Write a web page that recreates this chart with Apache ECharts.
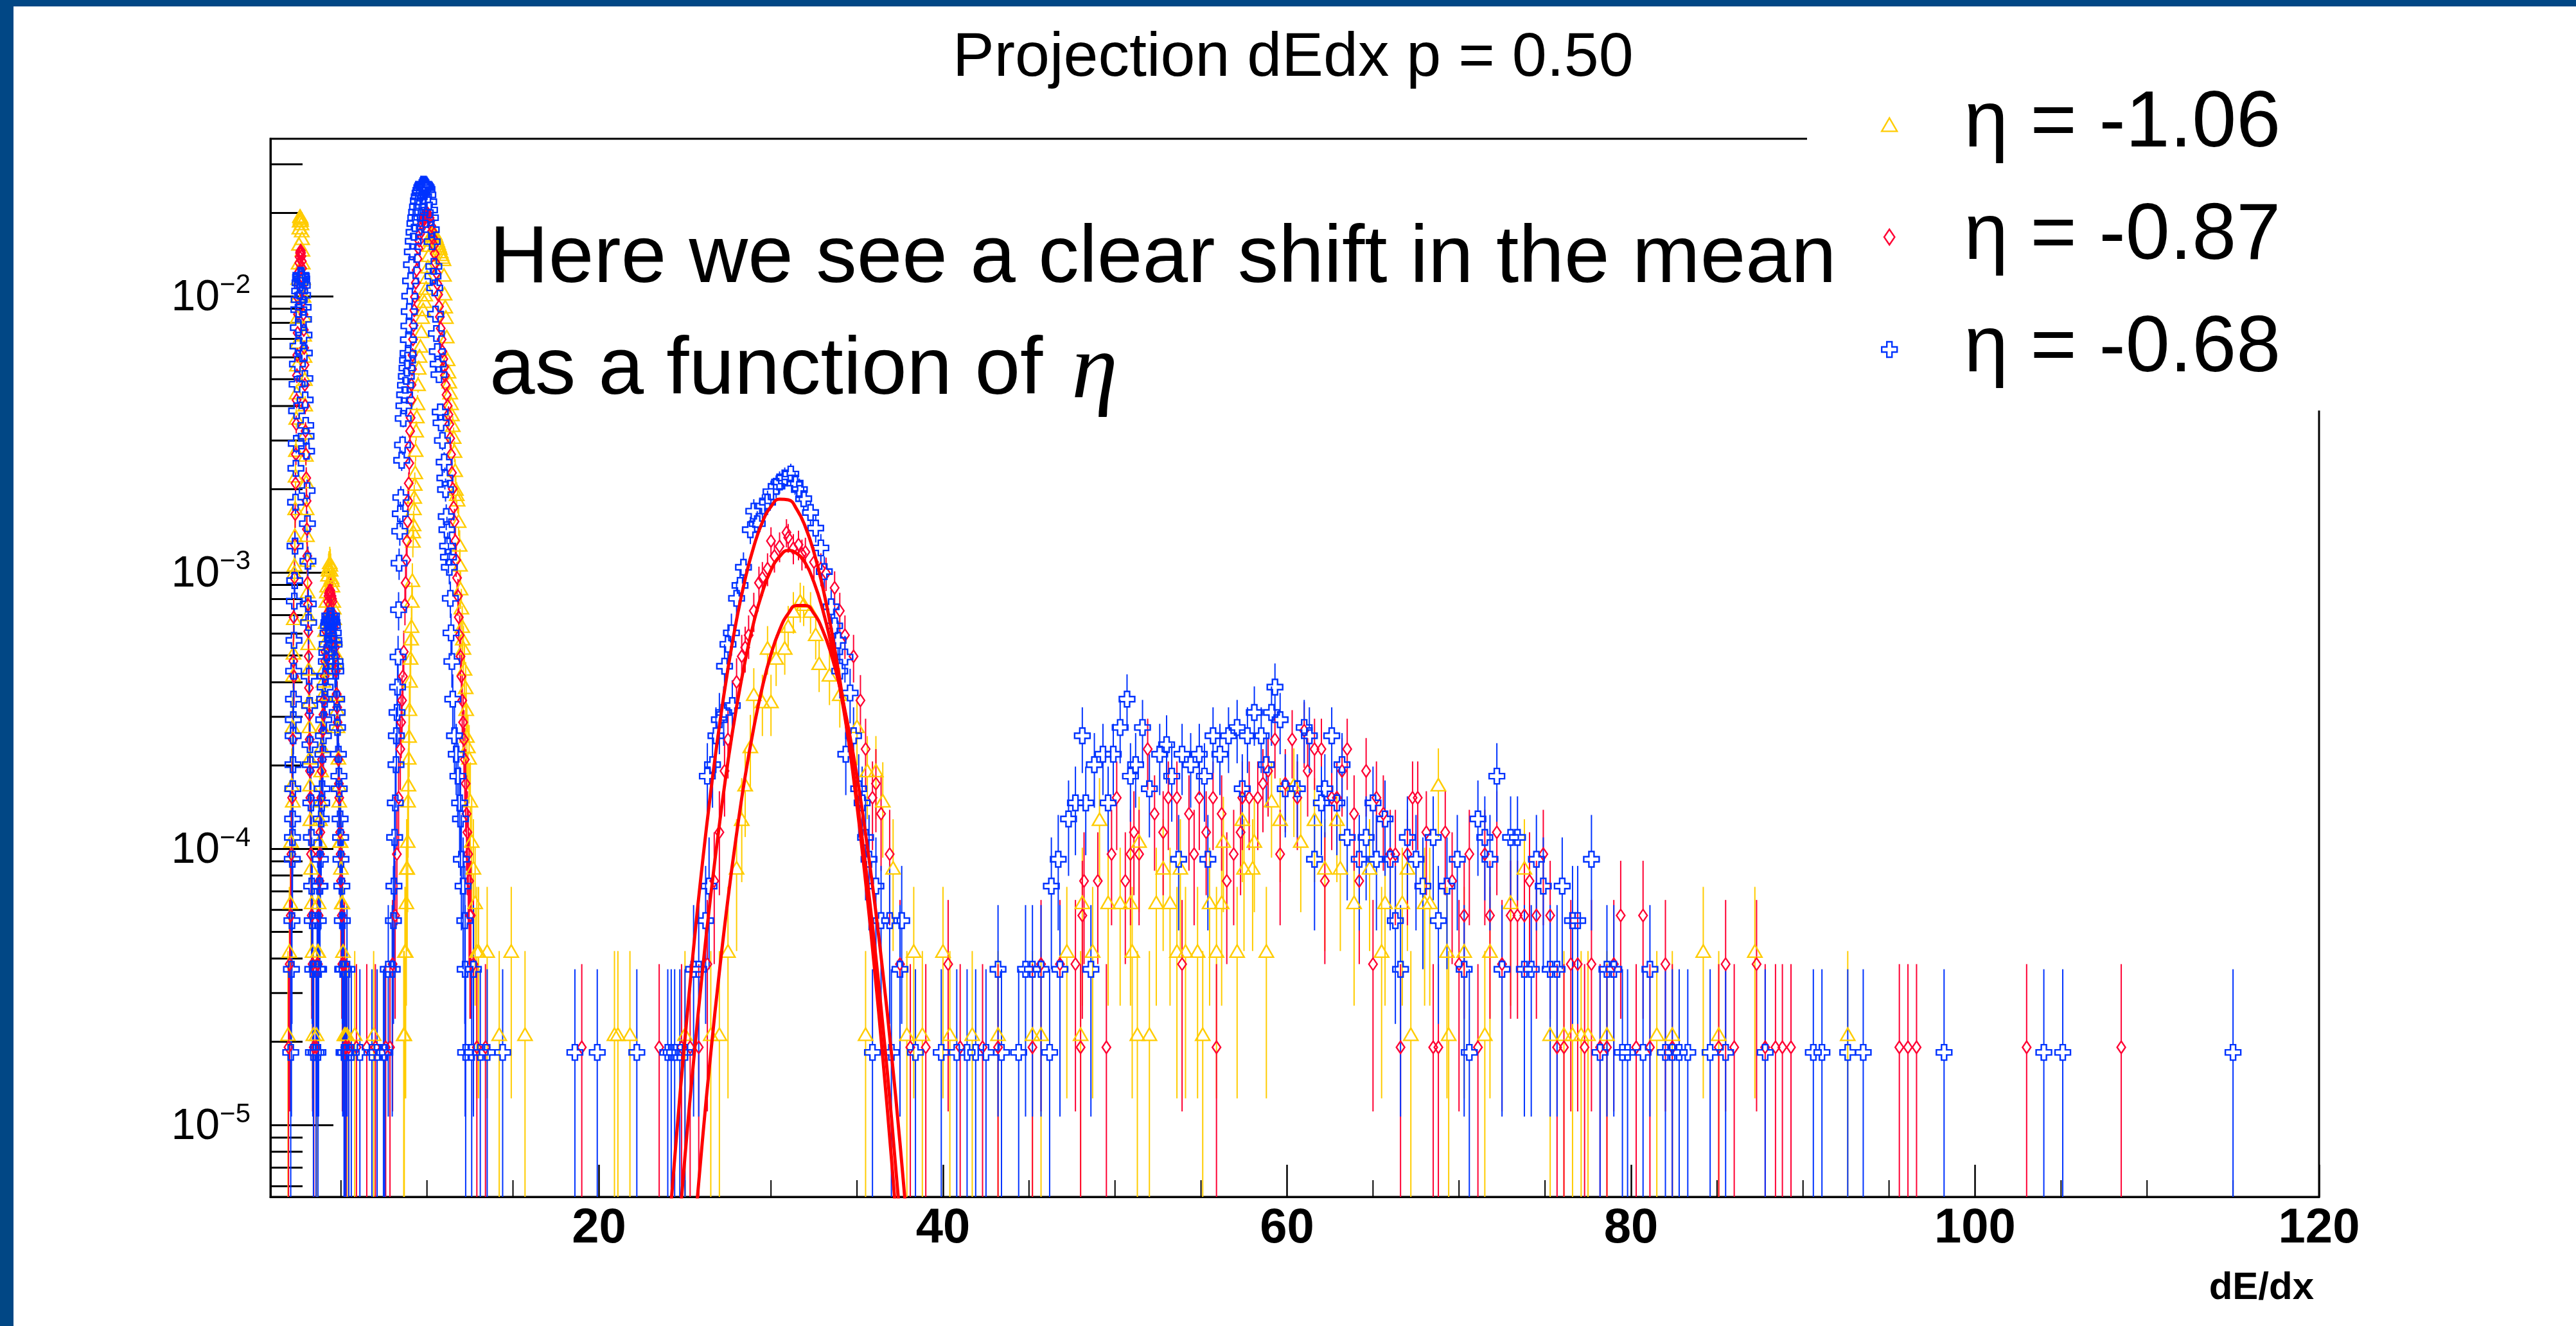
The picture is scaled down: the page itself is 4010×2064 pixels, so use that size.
<!DOCTYPE html>
<html><head><meta charset="utf-8">
<script src="https://cdn.jsdelivr.net/npm/echarts@6/dist/echarts.min.js"></script>
<style>html,body{margin:0;padding:0;background:#fff}#c{width:4010px;height:2064px}</style>
</head><body><div id="c"></div>
<script>
// ---------------- data ----------------
const chartTitle = 'Projection dEdx p = 0.50';
const xAxisTitle = 'dE/dx';
const seriesNames = ['η = -1.06', 'η = -0.87', 'η = -0.68'];
const noteLine1 = 'Here we see a clear shift in the mean';
const noteLine2 = 'as a function of ';
const noteSymbol = 'η';
// value of one entry in each normalised histogram
const countUnit = [2.13e-5, 1.91e-5, 1.83e-5];

// [dE/dx bin centre, entries]  eta = -1.06
const countsEtaM106 = [
[1.92,1],[2.0,2],[2.06,3],[2.1,5],[2.14,8],[2.18,13],[2.2,7],[2.22,20],[2.24,24],[2.26,32],[2.28,47],[2.3,50],[2.34,80],[2.38,130],[2.42,210],[2.46,320],[2.5,470],[2.54,620],[2.58,830],[2.62,915],[2.66,900],[2.7,860],[2.74,760],[2.78,620],[2.82,470],[2.86,340],[2.9,235],[2.94,150],[2.98,100],[3.02,64],[3.06,40],[3.1,26],[3.14,16],[3.18,10],[3.22,6],[3.26,4],[3.3,3],[3.35,2],[3.4,1],
[2.32,64],[2.36,105],[2.4,170],[2.44,265],[2.48,395],[2.52,545],[2.56,725],[2.6,880],[2.64,910],[2.68,885],[2.72,810],[2.76,690],[2.8,545],[2.84,400],[2.88,285],[2.92,190],[2.96,125],[3.0,80],[3.04,52],[3.08,33],[3.12,21],[3.16,13],[3.2,8],
[3.58,1],[3.65,2],[3.7,3],[3.75,5],[3.8,7],[3.85,9],[3.9,13],[3.95,17],[4.0,21],[4.05,26],[4.1,31],[4.15,37],[4.2,42],[4.25,46],[4.3,49],[4.35,51],[4.4,48],[4.45,45],[4.5,42],[4.55,37],[4.6,32],[4.65,27],[4.7,22],[4.75,17],[4.8,13],[4.85,10],[4.9,7],[4.95,5],[5.0,4],[5.05,3],[5.12,2],[5.2,1],[5.35,1],[5.8,1],[6.9,1],
[3.68,2],[3.78,6],[3.88,11],[3.98,19],[4.08,29],[4.18,40],[4.28,48],[4.38,50],[4.48,44],[4.58,35],[4.68,24],[4.78,15],[4.88,8],[4.98,5],[5.08,3],[5.25,1],
[8.65,1],[8.72,2],[8.8,3],[8.85,4],[8.9,7],[8.94,10],[8.98,15],[9.05,23],[9.1,30],[9.15,44],[9.18,61],[9.22,70],[9.26,88],[9.32,108],[9.37,153],[9.45,192],[9.52,258],[9.62,310],[9.72,394],[9.85,450],[9.95,502],[10.05,600],[10.15,718],[10.25,780],[10.35,800],[10.45,790],[10.55,760],[10.65,730],[10.75,700],[10.85,665],[10.96,638],[11.02,479],[11.1,394],[11.2,277],[11.3,230],[11.4,192],[11.5,160],[11.6,129],[11.68,94],[11.78,86],[11.9,59],[11.95,41],[12.05,30],[12.12,25],[12.25,18],[12.32,12],[12.45,10],[12.6,5],[12.8,3],[13.0,2],[13.5,2],[14.2,1],[14.9,2],[15.7,1],
[8.68,1],[8.76,2],[8.82,4],[8.88,5],[8.92,8],[8.96,12],[9.02,19],[9.08,27],[9.12,37],[9.2,66],[9.24,80],[9.29,98],[9.34,130],[9.41,172],[9.48,225],[9.57,285],[9.67,350],[9.78,420],[9.9,475],[10.0,550],[10.1,660],[10.2,750],[10.3,795],[10.4,798],[10.5,775],[10.6,745],[10.7,715],[10.8,680],[10.9,650],[10.99,560],[11.06,430],[11.15,335],[11.25,250],[11.35,210],[11.45,175],[11.55,145],[11.64,110],[11.73,90],[11.84,72],[11.92,50],[12.0,35],[12.08,27],[12.18,21],[12.28,15],[12.38,11],[12.52,7],[12.7,4],[12.9,2],
[20.9,1],[21.1,1],[21.8,1],[25.0,1],
[26.5,1],[27.0,1],[27.5,2],[28.0,4],[28.3,6],[28.5,8],[28.8,11],[29.0,17],[29.5,16],[29.8,25],[30.0,16],[30.3,23],[30.8,25],[31.0,30],[31.3,34],[31.7,37],[31.9,36],[32.3,34],[32.6,28],[32.8,22],[33.4,20],[34.0,17],[35.0,13],[35.5,1],[35.6,9],[36.1,9],[36.5,7],[37.1,4],[37.9,1],[38.3,2],[38.8,1],[40.0,2],[40.4,1],[41.7,1],[43.2,1],
[45.2,1],[45.7,1],[47.2,2],[48.0,1],[48.1,3],[48.7,2],[49.1,6],[49.6,3],[50.3,3],[50.9,3],[51.0,2],[51.3,1],[51.4,5],[52.0,1],[52.4,3],[52.8,4],[53.2,3],[53.6,2],[53.8,4],[54.1,2],[54.8,2],[55.1,1],[55.5,3],[55.9,2],[56.2,3],[56.3,5],[57.1,2],[57.4,6],[57.5,4],[58.0,4],[58.1,5],[58.8,2],[59.1,7],[59.6,6],[60.4,8],[60.8,5],[61.6,6],[62.2,4],[62.9,6],[63.1,4],[63.9,3],[64.8,4],[65.5,2],[65.7,3],[66.7,3],[67.0,4],[67.2,1],[68.0,3],[68.3,3],[68.8,8],[69.3,2],[69.4,1],[70.3,2],[71.5,1],[71.8,2],[73.0,3],[73.8,4],[75.3,1],[76.1,1],[76.6,1],[77.1,1],[77.5,1],[78.6,1],[81.5,1],[82.4,1],[84.2,2],[85.1,1],[87.2,2],[92.6,1]
];

// eta = -0.87
const countsEtaM087 = [
[1.95,1],[2.02,2],[2.08,3],[2.12,5],[2.16,8],[2.2,13],[2.23,25],[2.25,36],[2.27,22],[2.3,50],[2.34,85],[2.38,140],[2.42,220],[2.46,320],[2.5,450],[2.54,580],[2.58,690],[2.62,750],[2.66,764],[2.7,730],[2.74,660],[2.78,560],[2.82,450],[2.86,340],[2.9,250],[2.94,170],[2.98,115],[3.02,75],[3.06,48],[3.1,32],[3.14,20],[3.18,13],[3.22,8],[3.26,5],[3.3,3],[3.35,2],[3.42,1],
[2.32,66],[2.36,110],[2.4,180],[2.44,270],[2.48,385],[2.52,515],[2.56,640],[2.6,725],[2.64,760],[2.68,750],[2.72,700],[2.76,610],[2.8,505],[2.84,395],[2.88,295],[2.92,210],[2.96,140],[3.0,95],[3.04,60],[3.08,40],[3.12,26],[3.16,16],[3.2,10],
[3.55,1],[3.62,2],[3.7,3],[3.75,4],[3.8,6],[3.85,8],[3.9,11],[3.95,14],[4.0,18],[4.05,22],[4.1,27],[4.15,32],[4.2,37],[4.25,41],[4.3,44],[4.35,45],[4.4,44],[4.45,43],[4.5,41],[4.55,37],[4.6,33],[4.65,28],[4.7,23],[4.75,19],[4.8,15],[4.85,11],[4.9,8],[4.95,6],[5.0,4],[5.05,3],[5.1,2],[5.2,2],[5.3,1],[5.45,1],[5.9,1],[6.5,1],[7.0,1],
[3.66,2],[3.78,5],[3.88,10],[3.98,16],[4.08,25],[4.18,35],[4.28,43],[4.38,45],[4.48,42],[4.58,35],[4.68,26],[4.78,17],[4.88,9],[4.98,5],[5.08,2],[5.25,1],
[7.6,1],[7.85,1],[8.0,2],[8.15,3],[8.25,5],[8.35,8],[8.45,12],[8.55,18],[8.65,27],[8.72,40],[8.8,58],[8.87,80],[8.94,110],[9.0,150],[9.05,190],[9.1,250],[9.16,320],[9.22,410],[9.3,520],[9.4,650],[9.5,780],[9.6,880],[9.7,960],[9.8,1010],[9.9,1040],[10.0,1047],[10.1,1030],[10.2,980],[10.3,900],[10.4,800],[10.5,690],[10.6,580],[10.7,480],[10.8,400],[10.9,330],[11.0,290],[11.08,250],[11.2,210],[11.3,180],[11.4,140],[11.45,120],[11.55,90],[11.65,68],[11.75,50],[11.85,36],[11.95,26],[12.05,18],[12.15,13],[12.25,9],[12.35,6],[12.45,4],[12.55,3],[12.7,2],[12.9,1],[13.4,1],
[8.5,15],[8.6,22],[8.76,48],[8.84,68],[8.9,95],[8.97,130],[9.02,170],[9.08,220],[9.13,285],[9.19,365],[9.26,465],[9.35,585],[9.45,715],[9.55,830],[9.65,920],[9.75,985],[9.85,1025],[9.95,1045],[10.05,1040],[10.15,1005],[10.25,940],[10.35,850],[10.45,745],[10.55,635],[10.65,530],[10.75,440],[10.85,365],[10.95,310],[11.04,270],[11.14,230],[11.25,195],[11.35,160],[11.5,105],[11.6,80],[11.7,58],[11.8,43],[11.9,31],[12.0,22],[12.1,15],[12.2,11],[12.3,7],[12.4,5],[12.5,3],
[19.0,1],[23.5,1],
[24.8,1],[25.3,1],[25.8,1],[26.3,2],[26.7,4],[27.0,6],[27.3,10],[27.5,13],[28.0,21],[28.3,26],[28.5,28],[28.7,31],[29.0,38],[29.3,48],[29.5,50],[29.8,54],[30.0,68],[30.2,60],[30.5,65],[30.9,73],[31.0,70],[31.3,64],[31.6,66],[31.8,61],[32.0,62],[32.5,57],[32.9,54],[33.2,52],[33.7,46],[34.0,38],[34.3,31],[34.8,26],[35.2,18],[35.5,12],[35.9,8],[36.1,9],[36.4,7],[36.9,5],[37.5,2],[38.1,1],[39.0,1],[40.3,2],[41.0,1],[42.3,1],
[43.2,1],[45.2,1],[45.7,2],[46.8,2],[47.7,2],[48.0,1],[48.1,3],[48.2,4],[49.0,4],[49.5,1],[49.8,5],[50.1,8],[50.6,4],[50.9,5],[51.1,6],[51.4,5],[51.9,12],[52.3,7],[52.8,6],[53.1,8],[53.6,8],[53.9,2],[54.3,7],[54.6,5],[54.9,8],[55.3,6],[55.7,8],[55.9,1],[56.2,7],[56.5,4],[56.9,5],[57.3,6],[57.4,8],[57.8,8],[58.3,8],[58.6,9],[58.9,10],[59.3,13],[59.6,5],[59.9,9],[60.3,13],[60.6,8],[61.0,14],[61.2,10],[61.6,12],[62.0,12],[62.2,4],[62.6,8],[62.9,8],[63.2,10],[63.5,12],[63.9,7],[64.2,4],[64.6,10],[65.0,2],[65.2,8],[65.6,7],[66.0,5],[66.3,5],[66.6,1],[67.0,5],[67.3,8],[67.6,8],[68.1,6],[68.5,1],[68.8,1],[69.2,6],[69.6,4],[70.0,2],[70.3,3],[70.6,5],[71.1,1],[71.5,5],[71.8,3],[72.2,6],[72.5,2],[73.0,3],[73.4,3],[73.8,3],[74.1,4],[74.5,3],[74.9,5],[75.3,3],[75.7,1],[76.1,1],[76.5,2],[76.9,2],[77.3,1],[77.7,2],[78.2,1],[78.6,1],[79.0,2],[79.4,3],[80.3,1],[80.7,3],[81.1,1],[82.0,2],[82.4,1],[85.1,1],[85.5,2],[86.0,1],[87.3,2],[87.8,1],[88.4,1],[88.8,1],[89.3,1],[95.6,1],[96.1,1],[96.6,1],[103.0,1],[108.5,1]
];

// eta = -0.68
const countsEtaM068 = [
[2.08,1],[2.12,2],[2.15,3],[2.17,5],[2.18,6],[2.19,7],[2.2,9],[2.21,11],[2.22,14],[2.23,16],[2.24,19],[2.25,24],[2.27,31],[2.29,43],[2.31,51],[2.33,68],[2.36,98],[2.4,160],[2.45,262],[2.5,360],[2.55,488],[2.6,570],[2.65,640],[2.7,645],[2.75,597],[2.8,498],[2.85,395],[2.9,275],[2.95,186],[3.0,150],[3.03,108],[3.05,82],[3.08,60],[3.1,42],[3.12,36],[3.15,23],[3.18,18],[3.2,13],[3.22,11],[3.25,8],[3.28,6],[3.3,4],[3.33,3],[3.36,2],[3.4,1],
[2.38,130],[2.42,210],[2.47,310],[2.52,420],[2.57,530],[2.62,610],[2.67,650],[2.72,630],[2.77,550],[2.82,450],[2.87,340],[2.92,230],[2.97,170],
[3.55,1],[3.62,2],[3.66,1],[3.7,2],[3.75,4],[3.8,5],[3.85,7],[3.9,9],[3.95,12],[4.0,16],[4.05,19],[4.1,23],[4.15,26],[4.2,30],[4.25,33],[4.3,36],[4.35,38],[4.4,37],[4.45,38],[4.5,35],[4.55,33],[4.6,30],[4.65,26],[4.7,24],[4.75,19],[4.8,15],[4.85,12],[4.9,9],[4.95,7],[5.0,5],[5.05,4],[5.1,2],[5.15,2],[5.2,1],[5.28,1],[5.35,2],[5.45,1],[5.6,1],[6.1,1],[6.8,1],[7.1,1],
[3.68,3],[3.78,4],[3.88,8],[3.98,14],[4.08,21],[4.18,28],[4.28,35],[4.38,36],[4.48,36],[4.58,31],[4.68,25],[4.78,17],[4.88,10],[4.98,6],[5.08,3],[5.18,1],
[7.47,1],[7.55,1],[7.75,2],[7.98,2],[8.05,3],[8.08,4],[8.12,6],[8.16,8],[8.2,11],[8.22,14],[8.26,17],[8.29,21],[8.32,27],[8.35,40],[8.38,59],[8.42,77],[8.45,89],[8.48,102],[8.53,139],[8.58,158],[8.62,197],[8.66,219],[8.75,260],[8.84,300],[8.9,339],[8.95,426],[9.0,546],[9.1,710],[9.2,863],[9.3,1000],[9.4,1100],[9.5,1210],[9.6,1290],[9.7,1350],[9.8,1388],[9.9,1365],[10.0,1330],[10.1,1200],[10.2,1050],[10.3,860],[10.35,645],[10.45,585],[10.5,470],[10.55,400],[10.6,344],[10.7,284],[10.77,208],[10.9,164],[11.0,137],[11.08,109],[11.12,87],[11.2,68],[11.3,57],[11.36,44],[11.4,33],[11.45,26],[11.5,19],[11.6,14],[11.7,12],[11.8,10],[11.9,8],[11.95,7],[12.0,5],[12.1,4],[12.2,3],[12.22,2],[12.25,1],[12.6,1],[12.7,2],[13.1,1],[13.5,1],[14.4,1],
[8.7,240],[8.8,280],[8.87,320],[8.92,380],[8.97,480],[9.05,620],[9.15,790],[9.25,930],[9.35,1050],[9.45,1150],[9.55,1250],[9.65,1320],[9.75,1370],[9.85,1380],[9.95,1350],[10.05,1270],[10.15,1120],[10.25,950],[10.4,700],[10.65,310],[10.82,190],[11.04,120],[11.16,78],[11.25,62],
[18.6,1],[19.9,1],[22.2,1],[24.0,1],[24.2,1],[24.4,1],[24.7,1],[25.0,1],
[25.5,2],[25.8,2],[26.2,3],[26.3,10],[26.4,4],[26.6,11],[26.8,14],[27.0,16],[27.25,17],[27.3,25],[27.5,30],[27.7,33],[27.75,18],[28.0,44],[28.2,49],[28.4,57],[28.8,78],[29.0,91],[29.2,82],[29.5,95],[29.8,98],[30.0,107],[30.3,112],[30.5,116],[30.8,120],[31.15,124],[31.4,115],[31.65,109],[31.9,101],[32.3,90],[32.6,79],[32.9,67],[33.1,55],[33.5,41],[33.7,35],[33.9,31],[34.0,24],[34.3,27],[34.35,12],[34.6,20],[34.8,14],[35.1,9],[35.3,8],[35.5,6],[35.7,5],[35.9,1],[36.1,4],[36.4,3],[36.9,3],[37.0,1],[37.5,2],[37.6,3],[38.4,1],[39.9,1],[40.8,1],[41.4,1],[41.9,1],[42.5,1],
[43.2,2],[43.4,1],[44.4,1],[44.8,2],[45.2,2],[45.7,2],[46.2,1],[46.3,4],[46.7,5],[46.8,2],[47.3,7],[47.7,8],[48.1,14],[48.3,8],[48.6,2],[48.8,11],[49.3,12],[49.6,8],[49.9,12],[50.3,15],[50.7,19],[50.9,10],[51.2,11],[51.6,15],[52.0,9],[52.6,12],[53.0,13],[53.3,10],[53.7,5],[53.9,12],[54.4,11],[54.9,12],[55.2,10],[55.4,5],[55.7,14],[56.1,12],[56.6,14],[57.1,15],[57.4,9],[57.7,14],[58.1,17],[58.5,14],[58.8,11],[59.1,17],[59.3,21],[59.6,16],[59.9,9],[60.6,9],[61.0,15],[61.3,14],[61.6,5],[62.0,8],[62.2,9],[62.6,14],[62.9,8],[63.2,11],[63.5,6],[64.2,5],[64.6,6],[65.0,8],[65.2,5],[65.7,7],[66.0,5],[66.3,3],[66.6,2],[67.0,6],[67.5,5],[67.9,4],[68.5,6],[68.8,3],[69.3,4],[69.9,5],[70.3,2],[70.6,1],[71.1,7],[71.5,6],[71.8,5],[72.2,10],[72.5,2],[73.0,6],[73.4,6],[73.8,2],[74.2,2],[74.5,5],[74.9,4],[75.3,2],[75.7,2],[76.0,4],[76.6,3],[76.9,3],[77.7,5],[78.2,1],[78.6,2],[79.0,2],[79.5,1],[79.8,1],[80.7,1],[81.1,2],[82.0,1],[82.4,1],[82.8,1],[83.3,1],[84.6,1],[85.5,1],[87.8,1],[90.6,1],[91.1,1],[92.6,1],[93.5,1],[98.2,1],[104.0,1],[105.1,1],[115.0,1]
];

// Gaussian fit curves: [dE/dx, value]
const fitEtaM106 = [[25.5,3.8e-6],[26.0,8.6e-6],[26.5,1.82e-5],[27.0,3.58e-5],[27.5,6.59e-5],[28.0,1.13e-4],[28.5,1.83e-4],[29.0,2.74e-4],[29.5,3.85e-4],[30.0,5.05e-4],[30.5,6.19e-4],[31.0,7.09e-4],[31.5,7.59e-4],[32.0,7.59e-4],[32.5,7.09e-4],[33.0,6.19e-4],[33.5,5.05e-4],[34.0,3.85e-4],[34.5,2.74e-4],[35.0,1.83e-4],[35.5,1.13e-4],[36.0,6.59e-5],[36.5,3.58e-5],[37.0,1.82e-5],[37.5,8.6e-6],[38.0,3.8e-6]];
const fitEtaM087 = [[24.5,3.25e-6],[25.0,7.7e-6],[25.5,1.7e-5],[26.0,3.52e-5],[26.5,6.79e-5],[27.0,1.22e-4],[27.5,2.07e-4],[28.0,3.26e-4],[28.5,4.79e-4],[29.0,6.6e-4],[29.5,8.48e-4],[30.0,1.02e-3],[30.5,1.14e-3],[31.0,1.2e-3],[31.5,1.17e-3],[32.0,1.08e-3],[32.5,9.2e-4],[33.0,7.35e-4],[33.5,5.49e-4],[34.0,3.83e-4],[34.5,2.5e-4],[35.0,1.52e-4],[35.5,8.67e-5],[36.0,4.62e-5],[36.5,2.29e-5],[37.0,1.07e-5],[37.5,4.6e-6]];
const fitEtaM068 = [[24.0,3.7e-6],[24.5,9.0e-6],[25.0,2.05e-5],[25.5,4.37e-5],[26.0,8.7e-5],[26.5,1.61e-4],[27.0,2.78e-4],[27.5,4.48e-4],[28.0,6.74e-4],[28.5,9.47e-4],[29.0,1.24e-3],[29.5,1.52e-3],[30.0,1.73e-3],[30.5,1.84e-3],[31.0,1.83e-3],[31.5,1.69e-3],[32.0,1.46e-3],[32.5,1.18e-3],[33.0,8.89e-4],[33.5,6.24e-4],[34.0,4.09e-4],[34.5,2.5e-4],[35.0,1.43e-4],[35.5,7.6e-5],[36.0,3.78e-5],[36.5,1.75e-5],[37.0,7.6e-6],[37.5,3.1e-6]];

// axis ticks
const xMinorTicks = [5,10,15,25,30,35,45,50,55,65,70,75,85,90,95,105,110,115];
const yMinorTicks = [6e-6,7e-6,8e-6,9e-6,2e-5,3e-5,4e-5,5e-5,6e-5,7e-5,8e-5,9e-5,2e-4,3e-4,4e-4,5e-4,6e-4,7e-4,8e-4,9e-4,2e-3,3e-3,4e-3,5e-3,6e-3,7e-3,8e-3,9e-3,2e-2,3e-2];

// ---------------- styling / layout ----------------
const X_MIN = 0.9, X_MAX = 120, Y_MIN = 5.49e-6, Y_MAX = 0.0371;
const COLORS = ['#ffcc00', '#ff0033', '#0033ff'];
const FIT_COLOR = '#ff0000';
const SYMBOLS = [
  'path://M0,-10L11,9L-11,9Z',
  'path://M0,-9.5L6.5,0L0,9.5L-6.5,0Z',
  'path://M-4,-12L4,-12L4,-4L12,-4L12,4L4,4L4,12L-4,12L-4,4L-12,4L-12,-4L-4,-4Z'
];
const SIZES = [[22,19],[13,19],[24,24]];
const GAPS = [10,10,12];
const FONT = 'Liberation Sans';
const countsList = [countsEtaM106, countsEtaM087, countsEtaM068];
const fitList = [fitEtaM106, fitEtaM087, fitEtaM068];

const series = [];
countsList.forEach((counts, i) => {
  const unit = countUnit[i];
  const color = COLORS[i];
  const gap = GAPS[i];
  series.push({
    type: 'custom', name: 'err' + i, silent: true, z: 2,
    encode: { x: 0, y: 1 },
    data: counts.map(d => [d[0], d[1] * unit, d[1]]),
    renderItem: function (params, api) {
      const x = api.value(0), v = api.value(1), n = api.value(2);
      const e = Math.sqrt(n) * unit;
      const p = api.coord([x, v]);
      const top = api.coord([x, Y_MAX])[1];
      const bot = api.coord([x, Y_MIN])[1];
      let yHi = Math.max(api.coord([x, v + e])[1], top);
      let yLo = (v - e) > Y_MIN ? api.coord([x, v - e])[1] : bot;
      yLo = Math.min(yLo, bot);
      const ch = [];
      if (yHi < p[1] - gap) ch.push({ type: 'line', shape: { x1: p[0], y1: yHi, x2: p[0], y2: p[1] - gap }, style: { stroke: color, lineWidth: 2 } });
      if (yLo > p[1] + gap) ch.push({ type: 'line', shape: { x1: p[0], y1: p[1] + gap, x2: p[0], y2: yLo }, style: { stroke: color, lineWidth: 2 } });
      return { type: 'group', children: ch };
    }
  });
  series.push({
    type: 'scatter', name: seriesNames[i], silent: true, z: 2,
    symbol: SYMBOLS[i], symbolSize: SIZES[i],
    itemStyle: { color: 'rgba(0,0,0,0)', borderColor: color, borderWidth: 2.4, opacity: 1 },
    emphasis: { disabled: true },
    data: counts.map(d => [d[0], d[1] * unit])
  });
});
fitList.forEach((f, i) => {
  series.push({
    type: 'line', name: 'fit' + i, silent: true, z: 3, smooth: true, showSymbol: false, symbol: 'none',
    clip: true, lineStyle: { color: FIT_COLOR, width: 5 }, data: f
  });
});
series.push({
  type: 'custom', name: 'yMinor', silent: true, z: 1,
  data: yMinorTicks.map(v => [X_MIN, v]),
  renderItem: function (params, api) {
    const p = api.coord([X_MIN, api.value(1)]);
    return { type: 'line', shape: { x1: p[0], y1: p[1], x2: p[0] + 50, y2: p[1] }, style: { stroke: '#000', lineWidth: 3 } };
  }
});
series.push({
  type: 'custom', name: 'xMinor', silent: true, z: 1,
  data: xMinorTicks.map(v => [v, Y_MIN]),
  renderItem: function (params, api) {
    const p = api.coord([api.value(0), Y_MIN]);
    return { type: 'line', shape: { x1: p[0], y1: p[1], x2: p[0], y2: p[1] - 26 }, style: { stroke: '#000', lineWidth: 2 } };
  }
});

const option = {
  animation: false,
  backgroundColor: '#ffffff',
  title: {
    text: chartTitle, left: 1478, top: 38,
    textStyle: { fontFamily: FONT, fontSize: 97, fontWeight: 'normal', color: '#000' }
  },
  legend: {
    orient: 'vertical', left: 2813, top: 125,
    padding: [7, 90, 33, 115],
    backgroundColor: '#ffffff',
    itemWidth: 24, itemHeight: 24, itemGap: 51,
    symbolKeepAspect: true,
    selectedMode: false,
    textStyle: { fontFamily: FONT, fontSize: 124, color: '#000', lineHeight: 94, padding: [26, 0, 0, 99] },
    data: seriesNames.map((nm, i) => ({
      name: nm, icon: SYMBOLS[i],
      itemStyle: { color: 'rgba(0,0,0,0)', borderColor: COLORS[i], borderWidth: 2.4 }
    }))
  },
  grid: {
    left: 421, right: 400, top: 216, bottom: 201,
    show: true, borderColor: '#000', borderWidth: 3, backgroundColor: 'rgba(0,0,0,0)'
  },
  xAxis: {
    type: 'value', min: X_MIN, max: X_MAX, splitNumber: 6,
    name: xAxisTitle, nameLocation: 'end', nameGap: 0,
    nameTextStyle: { fontFamily: FONT, fontSize: 60, fontWeight: 'bold', color: '#000', align: 'right', verticalAlign: 'top', padding: [112, 8, 0, 0] },
    axisLine: { show: true, onZero: false, lineStyle: { color: '#000', width: 3 } },
    axisTick: { show: true, inside: true, length: 50, lineStyle: { color: '#000', width: 2.5 } },
    splitLine: { show: false },
    axisLabel: {
      margin: 12, fontFamily: FONT, fontSize: 76, fontWeight: 'bold', color: '#000',
      showMinLabel: false,
      formatter: v => (v >= 20 && Math.abs(v / 20 - Math.round(v / 20)) < 1e-9) ? String(Math.round(v)) : ''
    }
  },
  yAxis: {
    type: 'log', logBase: 10, min: Y_MIN, max: Y_MAX,
    axisLine: { show: true, onZero: false, lineStyle: { color: '#000', width: 3 } },
    axisTick: { show: true, inside: true, length: 98, lineStyle: { color: '#000', width: 3 } },
    splitLine: { show: false },
    axisLabel: {
      margin: 31, color: '#000', showMinLabel: false, showMaxLabel: false,
      formatter: v => {
        const l = Math.log10(v), e = Math.round(l);
        if (Math.abs(l - e) > 1e-6) return '';
        return '{b|10}{s|\u2212' + (-e) + '}';
      },
      rich: {
        b: { fontFamily: FONT, fontSize: 68, lineHeight: 74, padding: [10, 0, 0, 0], verticalAlign: 'bottom', color: '#000' },
        s: { fontFamily: FONT, fontSize: 42, lineHeight: 58, verticalAlign: 'top', color: '#000' }
      }
    }
  },
  graphic: [
    { type: 'rect', z: 100, shape: { x: 0, y: 0, width: 4010, height: 10 }, style: { fill: '#014785' } },
    { type: 'rect', z: 100, shape: { x: 0, y: 0, width: 21, height: 2064 }, style: { fill: '#014785' } },
    { type: 'text', z: 100, x: 762, y: 404, style: { text: noteLine1, fontFamily: FONT, fontSize: 127, fill: '#000', textVerticalAlign: 'middle', verticalAlign: 'middle' } },
    { type: 'text', z: 100, x: 762, y: 578, style: { text: noteLine2, fontFamily: FONT, fontSize: 127, fill: '#000', textVerticalAlign: 'middle', verticalAlign: 'middle' } },
    { type: 'text', z: 100, x: 1668, y: 580, style: { text: noteSymbol, fontFamily: 'Liberation Serif', fontStyle: 'italic', fontSize: 145, fill: '#000', textVerticalAlign: 'middle', verticalAlign: 'middle' } }
  ],
  series: series
};

const chart = echarts.init(document.getElementById('c'), null, { renderer: 'canvas', width: 4010, height: 2064 });
chart.setOption(option);
</script>
</body></html>
